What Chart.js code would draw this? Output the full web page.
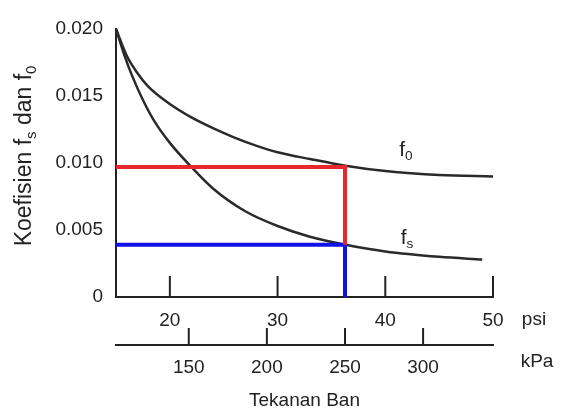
<!DOCTYPE html>
<html>
<head>
<meta charset="utf-8">
<script src="https://cdn.jsdelivr.net/npm/chart.js@4"></script>
<style>
  html, body { margin: 0; padding: 0; background: #fff; }
</style>
</head>
<body>
<canvas id="myChart" width="561" height="413"></canvas>
<script>
// --- data --- //
const psiF0 = [15, 16, 17, 18, 20, 22, 24, 26, 28, 30, 33, 36.3, 40, 45, 50];
const f0Values = [0.0200, 0.0180, 0.0167, 0.0157, 0.0144, 0.0134, 0.0126, 0.0119, 0.0113, 0.0108, 0.0103, 0.0098, 0.0094, 0.0091, 0.0090];

const psiFs = [15, 15.8, 16.5, 17.5, 18.5, 20, 22, 24, 27, 30, 33, 36.3, 40, 45, 49];
const fsValues = [0.0200, 0.0180, 0.0165, 0.0147, 0.0132, 0.0115, 0.0097, 0.0081, 0.0064, 0.0053, 0.0045, 0.0039, 0.0034, 0.0030, 0.0028];

const redPsi = [15, 36.26, 36.26];
const redValues = [0.0097, 0.0097, 0.0039];
const bluePsi = [15, 36.26, 36.26];
const blueValues = [0.0039, 0.0039, 0];

const psiTicks = [20, 30, 40, 50];
const kpaTicks = [150, 200, 250, 300];
const yTicks = [0, 0.005, 0.010, 0.015, 0.020];

const KPA_PER_PSI = 6.895;
const PSI_MIN = 15;
const PSI_MAX = 50;

const ink = "#222";
const fontFamily = "'Liberation Sans', Arial, sans-serif";

function toPoints(xs, ys) {
  return xs.map((x, i) => ({ x: x, y: ys[i] }));
}

// text with subscripts, centred on (x, y)
function drawRich(ctx, parts, x, y, size) {
  let widths = parts.map((p) => {
    ctx.font = (p.sub ? size * 0.65 : size) + "px " + fontFamily;
    return ctx.measureText(p.t).width;
  });
  let total = widths.reduce((a, b) => a + b, 0);
  let cx = x - total / 2;
  ctx.textAlign = "left";
  ctx.textBaseline = "middle";
  parts.forEach((p, i) => {
    ctx.font = (p.sub ? size * 0.65 : size) + "px " + fontFamily;
    ctx.fillText(p.t, cx, p.sub ? y + size * 0.3 : y);
    cx += widths[i];
  });
}

const extras = {
  id: "extras",
  afterDraw(chart) {
    const ctx = chart.ctx;
    const x = chart.scales.x;
    const x2 = chart.scales.x2;
    ctx.save();
    ctx.strokeStyle = ink;
    ctx.lineWidth = 2;
    // inward tick marks
    psiTicks.forEach((v) => {
      let px = x.getPixelForValue(v);
      ctx.beginPath();
      ctx.moveTo(px, x.top);
      ctx.lineTo(px, x.top - 21);
      ctx.stroke();
    });
    kpaTicks.forEach((v) => {
      let px = x2.getPixelForValue(v);
      ctx.beginPath();
      ctx.moveTo(px, x2.top);
      ctx.lineTo(px, x2.top - 17);
      ctx.stroke();
    });

    ctx.fillStyle = ink;
    ctx.font = "19px " + fontFamily;
    ctx.textAlign = "center";
    ctx.textBaseline = "middle";
    ctx.fillText("psi", 534, 320);
    ctx.fillText("kPa", 537, 362);

    // curve labels
    drawRich(ctx, [{ t: "f" }, { t: "0", sub: true }], 406, 150, 21);
    drawRich(ctx, [{ t: "f" }, { t: "s", sub: true }], 407, 238, 21);

    // y title
    ctx.translate(25, 156);
    ctx.rotate(-Math.PI / 2);
    drawRich(ctx, [{ t: "Koefisien f" }, { t: "s", sub: true }, { t: " dan f" }, { t: "0", sub: true }], 0, 0, 23);
    ctx.restore();
  },
};

const tickFont = { family: fontFamily, size: 19 };

new Chart(document.getElementById("myChart"), {
  type: "line",
  data: {
    datasets: [
      {
        data: toPoints(redPsi, redValues),
        borderColor: "#e8262b",
        borderWidth: 4,
        pointRadius: 0,
        tension: 0,
      },
      {
        data: toPoints(bluePsi, blueValues),
        borderColor: "#1212e8",
        borderWidth: 4,
        pointRadius: 0,
        tension: 0,
      },
      {
        data: toPoints(psiF0, f0Values),
        borderColor: "#2a2a2a",
        borderWidth: 2.5,
        pointRadius: 0,
        cubicInterpolationMode: "monotone",
        clip: false,
      },
      {
        data: toPoints(psiFs, fsValues),
        borderColor: "#2a2a2a",
        borderWidth: 2.5,
        pointRadius: 0,
        cubicInterpolationMode: "monotone",
        clip: false,
      },
    ],
  },
  options: {
    responsive: false,
    animation: false,
    devicePixelRatio: 1,
    layout: { padding: { top: 29, right: 68, left: 0, bottom: 0 } },
    plugins: {
      legend: { display: false },
      tooltip: { enabled: false },
    },
    scales: {
      x: {
        type: "linear",
        position: "bottom",
        min: PSI_MIN,
        max: PSI_MAX,
        afterBuildTicks: (s) => { s.ticks = psiTicks.map((v) => ({ value: v })); },
        afterFit: (s) => { s.height = 48; },
        grid: { display: false },
        border: { display: true, color: ink, width: 2 },
        ticks: { font: tickFont, color: ink, padding: 4, maxRotation: 0 },
      },
      x2: {
        type: "linear",
        position: "bottom",
        min: PSI_MIN * KPA_PER_PSI,
        max: PSI_MAX * KPA_PER_PSI,
        afterBuildTicks: (s) => { s.ticks = kpaTicks.map((v) => ({ value: v })); },
        afterFit: (s) => { s.height = 68; },
        grid: { display: false },
        border: { display: true, color: ink, width: 2 },
        ticks: { font: tickFont, color: ink, padding: 3, maxRotation: 0 },
        title: {
          display: true,
          text: "Tekanan Ban",
          color: ink,
          font: { family: fontFamily, size: 19 },
          padding: { top: 0, bottom: 1 },
        },
      },
      y: {
        type: "linear",
        min: 0,
        max: 0.02,
        afterBuildTicks: (s) => { s.ticks = yTicks.map((v) => ({ value: v })); },
        afterFit: (s) => { s.width = 116; },
        grid: { display: false },
        border: { display: true, color: ink, width: 2 },
        ticks: {
          font: tickFont,
          color: ink,
          padding: 5,
          callback: (v) => (v === 0 ? "0" : v.toFixed(3)),
        },
      },
    },
  },
  plugins: [extras],
});
</script>
</body>
</html>
